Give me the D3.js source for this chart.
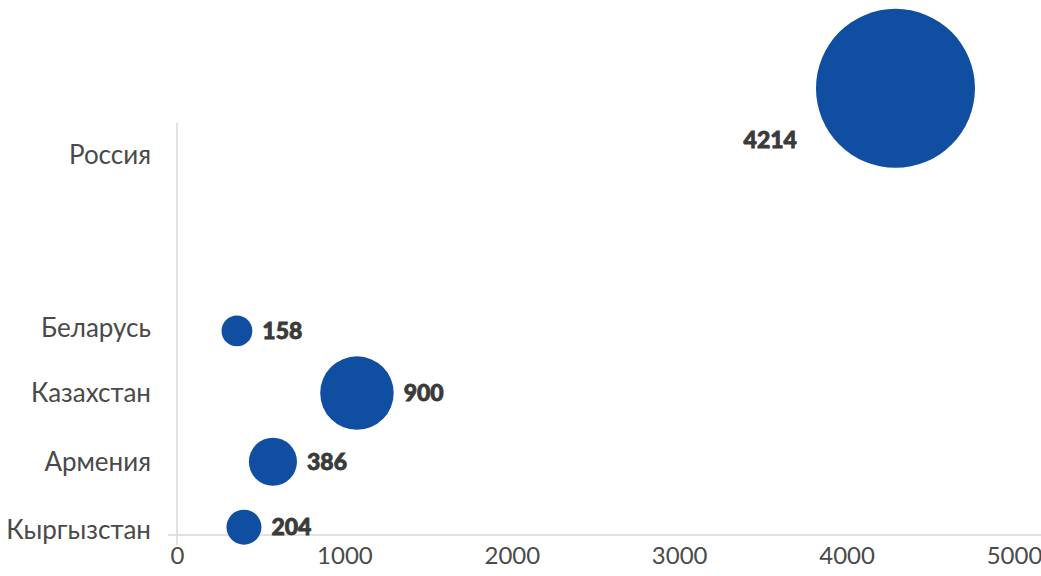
<!DOCTYPE html>
<html>
<head>
<meta charset="utf-8">
<script src="https://cdn.jsdelivr.net/npm/d3@7"></script>
<style>
  html, body { margin: 0; padding: 0; background: #fff; }
  #chart text { font-family: Lato, "Open Sans", sans-serif; }
</style>
</head>
<body>
<div id="chart"></div>
<script>
// data
var countries = ["Россия", "Беларусь", "Казахстан", "Армения", "Кыргызстан"];
var sizes     = [4214, 158, 900, 386, 204];          // bubble size (label)
var xValues   = [4292, 358, 1075, 573, 400];         // bubble x
var yValues   = [6.83, 3.12, 2.17, 1.12, 0.12];      // bubble y
var catPos    = [5.81, 3.17, 2.17, 1.12, 0.08];      // where the category name sits
var xTicks    = [0, 1000, 2000, 3000, 4000, 5000];

var width = 1041, height = 576;
var blue = "#0f4ea0";

var svg = d3.select("#chart")
  .append("svg")
  .attr("width", width)
  .attr("height", height);

var x = d3.scaleLinear().domain([0, 5000]).range([177, 1014]);
var y = d3.scaleLinear().domain([0, 6.3]).range([535, 123]);
var r = d3.scaleSqrt().domain([0, 4214]).range([0, 79.5]);

// axis lines
svg.append("line")
  .attr("x1", x(0) - 9).attr("x2", width)
  .attr("y1", y(0)).attr("y2", y(0))
  .style("stroke", "#d9d9d9").style("stroke-width", 1.5);

svg.append("line")
  .attr("x1", x(0)).attr("x2", x(0))
  .attr("y1", y(6.3)).attr("y2", y(0) + 10)
  .style("stroke", "#d9d9d9").style("stroke-width", 1.5);

// x tick labels
var xAxis = d3.axisBottom(x).tickValues(xTicks).tickSize(0).tickPadding(21)
  .tickFormat(d3.format("d"));
var gx = svg.append("g")
  .attr("transform", "translate(0," + y(0) + ")")
  .call(xAxis);
gx.select(".domain").remove();
gx.selectAll("text")
  .style("font-size", "24px")
  .style("fill", "#4a4a4a")
  .attr("dy", "0.35em");

// category labels
var yAxis = d3.axisLeft(y).tickValues(catPos).tickSize(0).tickPadding(26)
  .tickFormat(function(d, i) { return countries[i]; });
var gy = svg.append("g")
  .attr("transform", "translate(" + x(0) + ",0)")
  .call(yAxis);
gy.select(".domain").remove();
gy.selectAll("text")
  .style("font-size", "26px")
  .style("fill", "#4a4a4a");

// bubbles
var pts = countries.map(function(c, i) {
  return { name: c, size: sizes[i], x: xValues[i], y: yValues[i] };
});

svg.selectAll("circle.bubble")
  .data(pts)
  .enter()
  .append("circle")
  .attr("class", "bubble")
  .attr("cx", function(d) { return x(d.x); })
  .attr("cy", function(d) { return y(d.y); })
  .attr("r", function(d) { return r(d.size); })
  .style("fill", blue);

// value labels: right of the bubble, unless it would run off the chart
function offRight(d) { return x(d.x) + r(d.size) + 120 > width; }

svg.selectAll("text.val")
  .data(pts)
  .enter()
  .append("text")
  .attr("class", "val")
  .attr("x", function(d) {
    var cx = x(d.x), rr = r(d.size);
    return offRight(d) ? cx - rr - 19 : cx + rr + 10;
  })
  .attr("y", function(d) {
    return offRight(d) ? y(d.y) + r(d.size) * 0.65 : y(d.y);
  })
  .attr("dy", "0.35em")
  .attr("text-anchor", function(d) { return offRight(d) ? "end" : "start"; })
  .style("font-size", "23px")
  .style("font-weight", "900")
  .style("fill", "#3a3a3a")
  .style("stroke", "#3a3a3a")
  .style("stroke-width", 0.8)
  .text(function(d) { return d.size; });
</script>
</body>
</html>
